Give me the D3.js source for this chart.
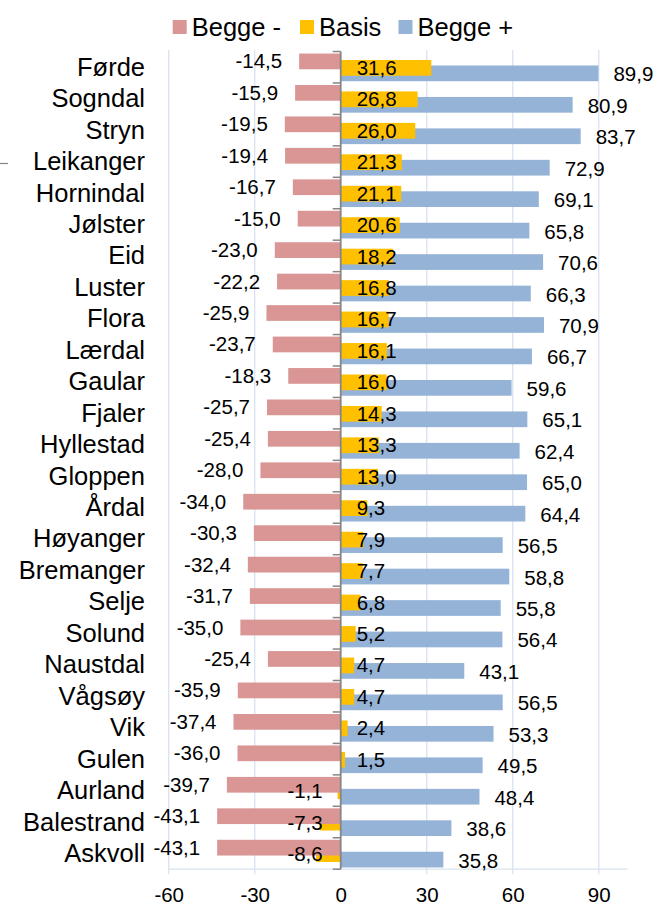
<!DOCTYPE html>
<html>
<head>
<meta charset="utf-8">
<script src="https://cdn.jsdelivr.net/npm/d3@7"></script>
<style>
  html, body { margin: 0; padding: 0; background: #fff; }
  svg { display: block; font-family: "Liberation Sans", Arial, sans-serif; }
</style>
</head>
<body>
<svg id="chart" width="655" height="905"></svg>
<script>
// Municipalities, top to bottom
const categories = ["Førde", "Sogndal", "Stryn", "Leikanger", "Hornindal", "Jølster", "Eid", "Luster", "Flora", "Lærdal", "Gaular", "Fjaler", "Hyllestad", "Gloppen", "Årdal", "Høyanger", "Bremanger", "Selje", "Solund", "Naustdal", "Vågsøy", "Vik", "Gulen", "Aurland", "Balestrand", "Askvoll"];

const beggeMinus = [-14.5, -15.9, -19.5, -19.4, -16.7, -15.0, -23.0, -22.2, -25.9, -23.7, -18.3, -25.7, -25.4, -28.0, -34.0, -30.3, -32.4, -31.7, -35.0, -25.4, -35.9, -37.4, -36.0, -39.7, -43.1, -43.1];
const basis = [31.6, 26.8, 26.0, 21.3, 21.1, 20.6, 18.2, 16.8, 16.7, 16.1, 16.0, 14.3, 13.3, 13.0, 9.3, 7.9, 7.7, 6.8, 5.2, 4.7, 4.7, 2.4, 1.5, -1.1, -7.3, -8.6];
const beggePlus = [89.9, 80.9, 83.7, 72.9, 69.1, 65.8, 70.6, 66.3, 70.9, 66.7, 59.6, 65.1, 62.4, 65.0, 64.4, 56.5, 58.8, 55.8, 56.4, 43.1, 56.5, 53.3, 49.5, 48.4, 38.6, 35.8];

const seriesNames = ["Begge -", "Basis", "Begge +"];
const xTicks = [-60, -30, 0, 30, 60, 90];
const xDomain = [-60, 100];

const colors = { "Begge -": "#D99694", "Basis": "#FFC000", "Begge +": "#95B3D7" };

const svg = d3.select("#chart");
const plot = { left: 168.7, right: 627.4, top: 51.5, bottom: 869.2 };

const x = d3.scaleLinear().domain(xDomain).range([plot.left, plot.right]);
const y = d3.scaleBand().domain(categories).range([plot.top, plot.bottom]).padding(0);
const bw = y.bandwidth();

const locale = d3.formatLocale({ decimal: ",", thousands: " ", grouping: [3], currency: ["", " kr"], minus: "-" });
const fmt = locale.format(".1f");

// vertical gridlines
const gridColor = "#D9E3F1";
svg.append("g").selectAll("line")
  .data(xTicks.filter(t => t !== 0))
  .join("line")
  .attr("x1", d => x(d)).attr("x2", d => x(d))
  .attr("y1", plot.top - 1.5).attr("y2", plot.bottom + 5)
  .attr("stroke", gridColor).attr("stroke-width", 1.3);

// horizontal axis line
svg.append("line")
  .attr("x1", plot.left).attr("x2", plot.right)
  .attr("y1", plot.bottom).attr("y2", plot.bottom)
  .attr("stroke", gridColor).attr("stroke-width", 1.3);

// bottom axis tick labels
const xAxis = d3.axisBottom(x).tickValues(xTicks).tickSize(0).tickFormat(d => locale.format("d")(d));
const gx = svg.append("g").attr("transform", `translate(0,${plot.bottom})`).call(xAxis);
gx.select(".domain").remove();
gx.selectAll("text")
  .attr("y", 33).attr("dy", null)
  .attr("font-size", 20.5).attr("font-family", "Liberation Sans, Arial, sans-serif")
  .attr("fill", "#000");

// bar geometry inside each band: three overlapping bars
const barH = bw * 0.5;
const offsets = { "Begge -": bw * 0.065, "Basis": bw * 0.27, "Begge +": bw * 0.445 };
const seriesData = {
  "Begge -": beggeMinus,
  "Basis": basis,
  "Begge +": beggePlus
};

// draw blue first, yellow over it, pink on top
["Begge +", "Basis", "Begge -"].forEach(name => {
  const vals = seriesData[name];
  svg.append("g").selectAll("rect")
    .data(categories.map((c, i) => ({ c, v: vals[i] })))
    .join("rect")
    .attr("x", d => Math.min(x(0), x(d.v)))
    .attr("width", d => Math.abs(x(d.v) - x(0)))
    .attr("y", d => y(d.c) + offsets[name])
    .attr("height", barH)
    .attr("fill", colors[name]);
});

// category axis at zero with outside ticks
const gray = "#868686";
svg.append("line")
  .attr("x1", x(0)).attr("x2", x(0))
  .attr("y1", plot.top).attr("y2", plot.bottom)
  .attr("stroke", gray).attr("stroke-width", 1.8);
svg.append("g").selectAll("line")
  .data(categories.map(c => y(c)).concat([plot.bottom]))
  .join("line")
  .attr("x1", x(0) - 8).attr("x2", x(0))
  .attr("y1", d => d).attr("y2", d => d)
  .attr("stroke", gray).attr("stroke-width", 1.5);

// category labels on the left
svg.append("g").selectAll("text")
  .data(categories)
  .join("text")
  .attr("x", 145)
  .attr("y", d => y(d) + bw / 2 + 8.5)
  .attr("text-anchor", "end")
  .attr("font-size", 25.5)
  .attr("fill", "#000")
  .text(d => d);

// value labels
const lbl = svg.append("g").attr("font-size", 20.5).attr("fill", "#000");
// Begge - : outside end, left of bar
lbl.append("g").selectAll("text")
  .data(categories.map((c, i) => ({ c, v: beggeMinus[i] })))
  .join("text")
  .attr("x", d => x(d.v) - 17)
  .attr("y", d => y(d.c) + offsets["Begge -"] + barH / 2 + 7)
  .attr("text-anchor", "end")
  .text(d => fmt(d.v));
// Basis : near the base
lbl.append("g").selectAll("text")
  .data(categories.map((c, i) => ({ c, v: basis[i] })))
  .join("text")
  .attr("x", d => d.v >= 0 ? x(0) + 16 : x(0) - 18)
  .attr("y", d => y(d.c) + offsets["Basis"] + barH / 2 + 7)
  .attr("text-anchor", d => d.v >= 0 ? "start" : "end")
  .text(d => fmt(d.v));
// Begge + : outside end, right of bar
lbl.append("g").selectAll("text")
  .data(categories.map((c, i) => ({ c, v: beggePlus[i] })))
  .join("text")
  .attr("x", d => x(d.v) + 15)
  .attr("y", d => y(d.c) + offsets["Begge +"] + barH / 2 + 8)
  .attr("text-anchor", "start")
  .text(d => fmt(d.v));

// legend
const legendItems = [
  { name: "Begge -", x: 172.7 },
  { name: "Basis", x: 300 },
  { name: "Begge +", x: 398.5 }
];
const lg = svg.append("g");
legendItems.forEach(it => {
  lg.append("rect").attr("x", it.x).attr("y", 20).attr("width", 14).attr("height", 14)
    .attr("fill", colors[it.name]);
  lg.append("text").attr("x", it.x + 19).attr("y", 35.5)
    .attr("font-size", 25.5).attr("fill", "#000").text(it.name);
});

// small stray axis mark at the left edge
svg.append("line").attr("x1", 0).attr("x2", 8).attr("y1", 163.5).attr("y2", 163.5)
  .attr("stroke", gray).attr("stroke-width", 1.2);
</script>
</body>
</html>
